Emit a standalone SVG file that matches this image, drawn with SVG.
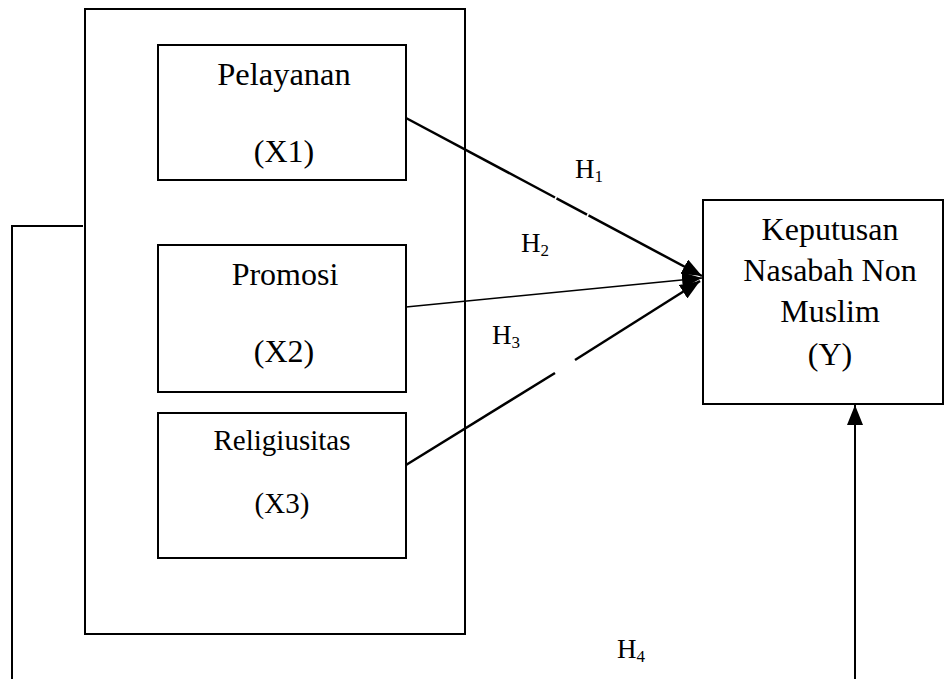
<svg xmlns="http://www.w3.org/2000/svg" width="944" height="679" viewBox="0 0 944 679">
<defs>
<style>
.box{fill:none;stroke:#000;stroke-width:2}
text{font-family:'Liberation Serif','Times New Roman','DejaVu Serif',serif;fill:#000}
.t{text-anchor:middle}
.h{font-size:27px}
.sub{font-size:17px}
.ln{stroke:#000;fill:none}
</style>
<marker id="ah" markerUnits="userSpaceOnUse" markerWidth="20" markerHeight="16" refX="20" refY="8" orient="auto">
<path d="M0,0 L20,8 L0,16 z" fill="#000"/>
</marker>
</defs>
<rect width="944" height="679" fill="#fff"/>
<g id="outer"><rect class="box" x="85" y="9" width="380" height="625"/></g>
<g id="x1">
<rect class="box" x="158" y="45" width="248" height="135"/>
<text class="t" x="284" y="85" font-size="32.5">Pelayanan</text>
<text class="t" x="284" y="162" font-size="32">(X1)</text>
</g>
<g id="x2">
<rect class="box" x="158" y="245" width="248" height="147"/>
<text class="t" x="285" y="285" font-size="32">Promosi</text>
<text class="t" x="284" y="362" font-size="32">(X2)</text>
</g>
<g id="x3">
<rect class="box" x="158" y="413" width="248" height="145"/>
<text class="t" x="282" y="450" font-size="29">Religiusitas</text>
<text class="t" x="282" y="513" font-size="29">(X3)</text>
</g>
<g id="y">
<rect class="box" x="703" y="200" width="240" height="204"/>
<text class="t" x="830" y="240" font-size="32">Keputusan</text>
<text class="t" x="830" y="281" font-size="32">Nasabah Non</text>
<text class="t" x="830" y="322" font-size="32">Muslim</text>
<text class="t" x="830" y="365" font-size="32">(Y)</text>
</g>
<g id="connectors">
<line class="ln" stroke-width="2.5" x1="406" y1="118" x2="555" y2="197.5"/>
<line class="ln" stroke-width="2.5" x1="556.5" y1="198.3" x2="587" y2="214.6"/>
<line class="ln" stroke-width="2.5" x1="588.5" y1="215.4" x2="702" y2="276" marker-end="url(#ah)"/>
<line class="ln" stroke-width="1.6" x1="406" y1="307" x2="702" y2="278" marker-end="url(#ah)"/>
<line class="ln" stroke-width="2.5" x1="406" y1="465" x2="555" y2="373"/>
<line class="ln" stroke-width="2.5" x1="575" y1="360" x2="700" y2="281" marker-end="url(#ah)"/>
<polyline class="ln" stroke-width="2" points="83,226 12,226 12,679"/>
<line class="ln" stroke-width="2" x1="855" y1="679" x2="855" y2="405" marker-end="url(#ah)"/>
</g>
<g id="labels">
<text class="h" x="575" y="178">H<tspan class="sub" dy="4">1</tspan></text>
<text class="h" x="521" y="252">H<tspan class="sub" dy="4">2</tspan></text>
<text class="h" x="492" y="344">H<tspan class="sub" dy="4">3</tspan></text>
<text class="h" x="617" y="658">H<tspan class="sub" dy="4">4</tspan></text>
</g>
</svg>
